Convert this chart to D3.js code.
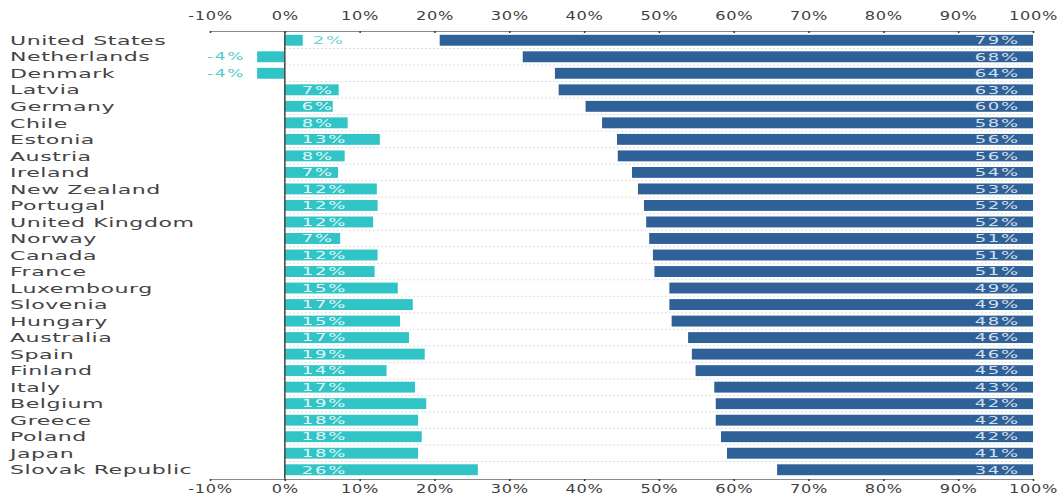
<!DOCTYPE html>
<html><head><meta charset="utf-8">
<script src="https://cdn.jsdelivr.net/npm/d3@7/dist/d3.min.js"></script>
<style>
html,body{margin:0;padding:0;background:#fff;}
svg text{font-family:"DejaVu Sans",Verdana,sans-serif;}
</style></head>
<body><svg id="chart" width="1059" height="495"></svg>
<script>
const categories = ["United States","Netherlands","Denmark","Latvia","Germany","Chile","Estonia","Austria","Ireland","New Zealand","Portugal","United Kingdom","Norway","Canada","France","Luxembourg","Slovenia","Hungary","Australia","Spain","Finland","Italy","Belgium","Greece","Poland","Japan","Slovak Republic"];
const tealValues = [2.4,-3.7,-3.7,7.2,6.4,8.4,12.7,8.0,7.1,12.3,12.4,11.8,7.4,12.4,12.0,15.1,17.1,15.4,16.6,18.7,13.6,17.4,18.9,17.8,18.3,17.8,25.8];
const blueValues = [79.3,68.2,63.9,63.4,59.8,57.6,55.6,55.5,53.6,52.8,52.0,51.7,51.3,50.8,50.6,48.6,48.6,48.3,46.1,45.6,45.1,42.6,42.4,42.4,41.7,40.9,34.2];
const tickValues = [-10,0,10,20,30,40,50,60,70,80,90,100];

const TEAL = "#31c4c6", BLUE = "#2f6199";
const svg = d3.select("#chart");
const x = d3.scaleLinear().domain([-10,100]).range([210,1033]);
const y = d3.scaleBand().domain(categories).range([32,478]).paddingInner(0.34).paddingOuter(0.17);
const fmt = v => Math.round(v) + "%";

// gridlines (dotted) at band boundaries
const step = y.step();
const bounds = d3.range(1, categories.length).map(i => 32 + i*step);
svg.append("g").selectAll("line").data(bounds).join("line")
  .attr("x1", x(0)).attr("x2", x(100)).attr("y1", d=>d).attr("y2", d=>d)
  .attr("stroke", "#dcdcdc").attr("stroke-width", 1).attr("stroke-dasharray", "2,2");

// teal bars
svg.append("g").selectAll("rect").data(tealValues).join("rect")
  .attr("x", d => x(Math.min(0,d))).attr("width", d => Math.abs(x(d)-x(0)))
  .attr("y", (d,i) => y(categories[i])).attr("height", y.bandwidth())
  .attr("fill", TEAL);

// blue bars
svg.append("g").selectAll("rect").data(blueValues).join("rect")
  .attr("x", d => x(100-d)).attr("width", d => x(100)-x(100-d))
  .attr("y", (d,i) => y(categories[i])).attr("height", y.bandwidth())
  .attr("fill", BLUE);

function stext(g, px, py, str, anchor, size, color, sx, ls){
  return g.append("text").attr("transform", `translate(${px},${py}) scale(${sx},1)`)
    .attr("text-anchor", anchor).attr("dominant-baseline","central")
    .attr("letter-spacing", ls||0)
    .attr("font-size", size).attr("fill", color).text(str);
}

// category labels
const gl = svg.append("g");
categories.forEach((c,i) => stext(gl, 10, y(c)+y.bandwidth()/2, c, "start", 13, "#444", 1.7, 0.3));

// teal value labels
const gt = svg.append("g");
tealValues.forEach((v,i) => {
  const cy = y(categories[i]) + y.bandwidth()/2;
  if (v < 0) stext(gt, x(v)-12, cy, fmt(v), "end", 10, "#52c9cb", 1.7, 1);
  else if (x(v)-x(0) < 30) stext(gt, x(v)+10, cy, fmt(v), "start", 10, "#6fd3d4", 1.8, 1);
  else stext(gt, x(0)+17, cy, fmt(v), "start", 10, "#e2f6f6", 1.8, 1);
});

// blue value labels
const gb = svg.append("g");
blueValues.forEach((v,i) => {
  const cy = y(categories[i]) + y.bandwidth()/2;
  stext(gb, x(100)-13, cy, fmt(v), "end", 10, "#d5dfeb", 1.8, 1);
});

// zero line
svg.append("line").attr("x1", x(0)).attr("x2", x(0)).attr("y1", 31).attr("y2", 479)
  .attr("stroke", "#444").attr("stroke-width", 1.5);

// axes
function styleAxis(g){
  g.select(".domain").attr("stroke", "#8a8a8a").attr("stroke-width", 1.2);
  g.selectAll(".tick line").attr("stroke", "#333").attr("stroke-width", 1.5);
  g.selectAll(".tick text").attr("font-size", 12).attr("fill", "#404040")
    .attr("font-family", '"DejaVu Sans",Verdana,sans-serif')
    .attr("letter-spacing", 0.5)
    .attr("transform", `scale(1.35,1)`);
}
const axTop = svg.append("g").attr("transform","translate(0,31)")
  .call(d3.axisTop(x).tickValues(tickValues).tickFormat(d => (d<0?"-":"")+Math.abs(d)+"%").tickSizeInner(-2).tickSizeOuter(0).tickPadding(11));
styleAxis(axTop);
const axBot = svg.append("g").attr("transform","translate(0,479)")
  .call(d3.axisBottom(x).tickValues(tickValues).tickFormat(d => (d<0?"-":"")+Math.abs(d)+"%").tickSizeInner(2).tickSizeOuter(0).tickPadding(3));
styleAxis(axBot);
</script></body></html>
